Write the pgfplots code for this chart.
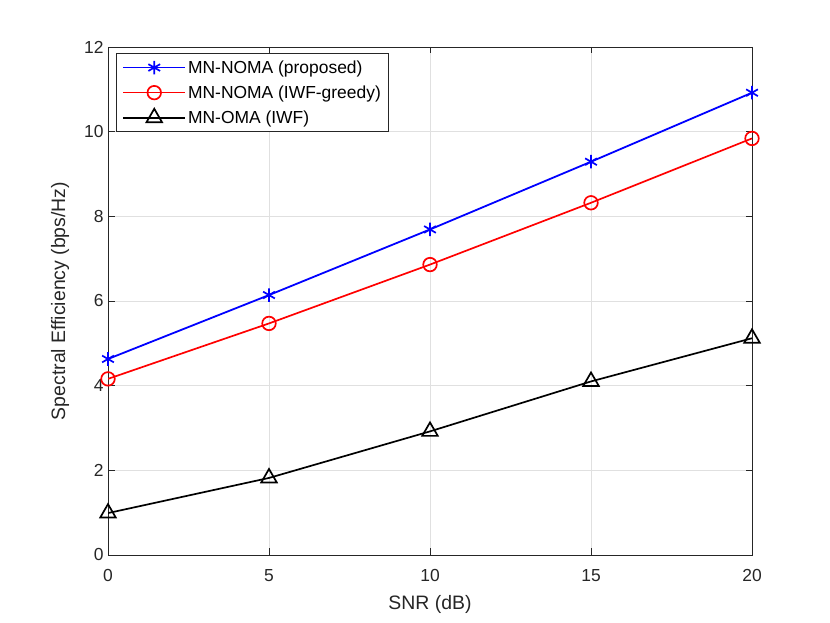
\documentclass[border=0pt]{standalone}
\usepackage{pgfplots}
\pgfplotsset{compat=1.18}
\usepackage{fontspec}
\setmainfont{Liberation Sans}
\definecolor{axgray}{rgb}{0.15,0.15,0.15}
\begin{document}
\begin{tikzpicture}[x=1bp,y=1bp]
\useasboundingbox (0,0) rectangle (830,623);
\begin{axis}[
  at={(108bp,68bp)}, anchor=south west,
  scale only axis, width=644bp, height=508bp,
  xmin=0, xmax=20, ymin=0, ymax=12,
  xtick={0,5,...,20}, ytick={0,2,...,12},
  grid=major,
  major grid style={color=black!12, line width=0.8pt},
  axis line style={axgray, line width=0.9pt},
  tick style={axgray, line width=0.9pt},
  major tick length=6.5bp,
  tick align=inside,
  xtick pos=both, ytick pos=both,
  ticklabel style={font=\fontsize{17.5}{20}\selectfont, text=axgray},
  xticklabel style={yshift=-11bp},
  yticklabel style={xshift=-1bp},
  /pgf/number format/assume math mode=true,
  label style={font=\fontsize{19.5}{22}\selectfont, text=axgray},
  xlabel={SNR (dB)}, ylabel={Spectral Efficiency (bps/Hz)},
  xlabel style={yshift=-7bp},
  ylabel style={yshift=8bp},
  legend style={at={(rel axis cs:0.0124,0.988)}, anchor=north west,
    font=\fontsize{17.5}{20}\selectfont, draw=axgray, line width=0.9pt,
    inner xsep=6pt, inner ysep=5pt, row sep=7pt},
  legend cell align=left,
  legend image code/.code={\draw[line width=1.7pt,mark repeat=2,mark phase=2,#1] plot coordinates {(0bp,0bp) (31bp,0bp) (62bp,0bp)};},
]
\addplot[blue, line width=1.8pt, mark=asterisk, mark size=6.8pt, mark options={line width=1.7pt}]
  coordinates {(0,4.63) (5,6.14) (10,7.69) (15,9.29) (20,10.92)};
\addlegendentry{MN-NOMA (proposed)}
\addplot[red, line width=1.7pt, mark=o, mark size=6.8pt]
  coordinates {(0,4.16) (5,5.47) (10,6.86) (15,8.32) (20,9.84)};
\addlegendentry{MN-NOMA (IWF-greedy)}
\addplot[black, line width=1.7pt, mark=triangle, mark size=9pt]
  coordinates {(0,0.99) (5,1.82) (10,2.92) (15,4.10) (20,5.12)};
\addlegendentry{MN-OMA (IWF)}
\end{axis}
\end{tikzpicture}
\end{document}
